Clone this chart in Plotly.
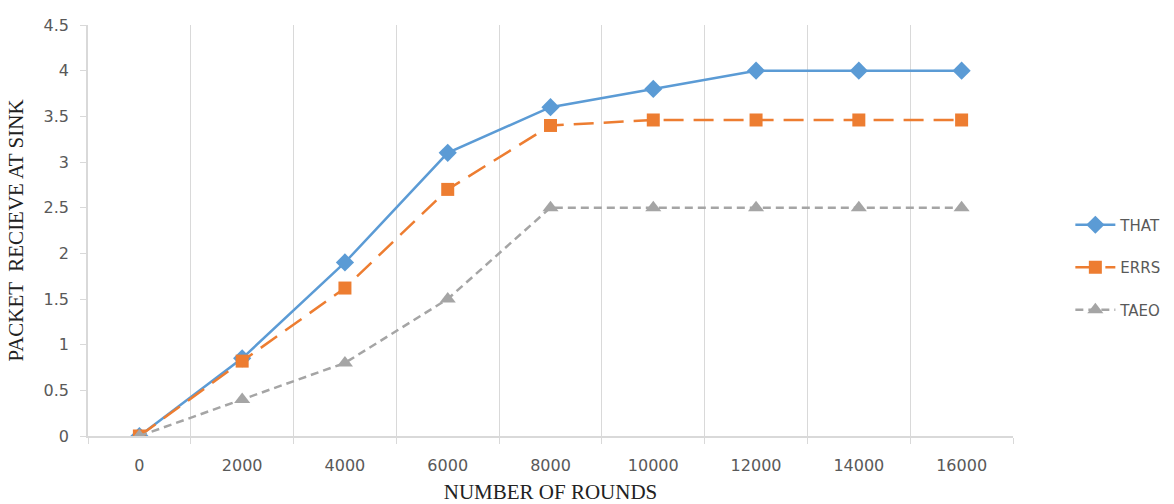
import plotly.graph_objects as go

rounds = ["0", "2000", "4000", "6000", "8000", "10000", "12000", "14000", "16000"]
that_vals = [0, 0.85, 1.9, 3.1, 3.6, 3.8, 4.0, 4.0, 4.0]
errs_vals = [0, 0.82, 1.62, 2.7, 3.4, 3.46, 3.46, 3.46, 3.46]
taeo_vals = [0, 0.4, 0.8, 1.5, 2.5, 2.5, 2.5, 2.5, 2.5]
y_ticks = [0, 0.5, 1, 1.5, 2, 2.5, 3, 3.5, 4, 4.5]
y_tick_text = ["0", "0.5", "1", "1.5", "2", "2.5", "3", "3.5", "4", "4.5"]

tick_font = dict(family="DejaVu Sans", size=16, color="#595959")
title_font = dict(family="Liberation Serif", size=21, color="#222222")
axis_grey = "#d9d9d9"

fig = go.Figure()
fig.add_trace(go.Scatter(
    x=rounds, y=that_vals, name="THAT", mode="lines+markers", legendgroup="a",
    line=dict(color="#5B9BD5", width=2.5),
    marker=dict(symbol="diamond", size=14, color="#5B9BD5"),
))
fig.add_trace(go.Scatter(
    x=rounds, y=errs_vals, name="ERRS", mode="lines+markers", legendgroup="b",
    line=dict(color="#ED7D31", width=2.5, dash="20px,10px"),
    marker=dict(symbol="square", size=13, color="#ED7D31"),
))
fig.add_trace(go.Scatter(
    x=rounds, y=taeo_vals, name="TAEO", mode="lines+markers", legendgroup="c",
    line=dict(color="#A5A5A5", width=2.5, dash="8px,5px"),
    marker=dict(symbol="triangle-up", size=14, color="#A5A5A5"),
))

fig.update_layout(
    width=1174, height=504,
    margin=dict(l=88, r=161, t=25, b=68, autoexpand=False),
    paper_bgcolor="white", plot_bgcolor="white",
    showlegend=True,
    legend=dict(
        x=1.062, y=0.41, xanchor="left", yanchor="middle",
        font=dict(family="DejaVu Sans", size=15, color="#595959"),
        tracegroupgap=20, itemwidth=40,
        bgcolor="rgba(0,0,0,0)",
    ),
)

fig.update_xaxes(
    type="category", range=[-0.5, 8.5],
    tickson="boundaries", ticks="outside", ticklen=6, tickcolor=axis_grey,
    ticklabelstandoff=14,
    showgrid=True, gridcolor=axis_grey, gridwidth=1,
    showline=True, linecolor=axis_grey, linewidth=1.5,
    tickfont=tick_font,
    title=dict(text="NUMBER OF ROUNDS", font=title_font, standoff=24),
    zeroline=False, automargin=False,
)
fig.update_yaxes(
    range=[0, 4.5], tickmode="array", tickvals=y_ticks, ticktext=y_tick_text,
    ticks="outside", ticklen=6, tickcolor=axis_grey,
    ticklabelstandoff=8,
    showgrid=False,
    showline=True, linecolor=axis_grey, linewidth=1.5,
    tickfont=tick_font,
    title=dict(text="PACKET  RECIEVE AT SINK", font=title_font, standoff=14),
    zeroline=False, automargin=False,
)

fig.write_html("out.html")
